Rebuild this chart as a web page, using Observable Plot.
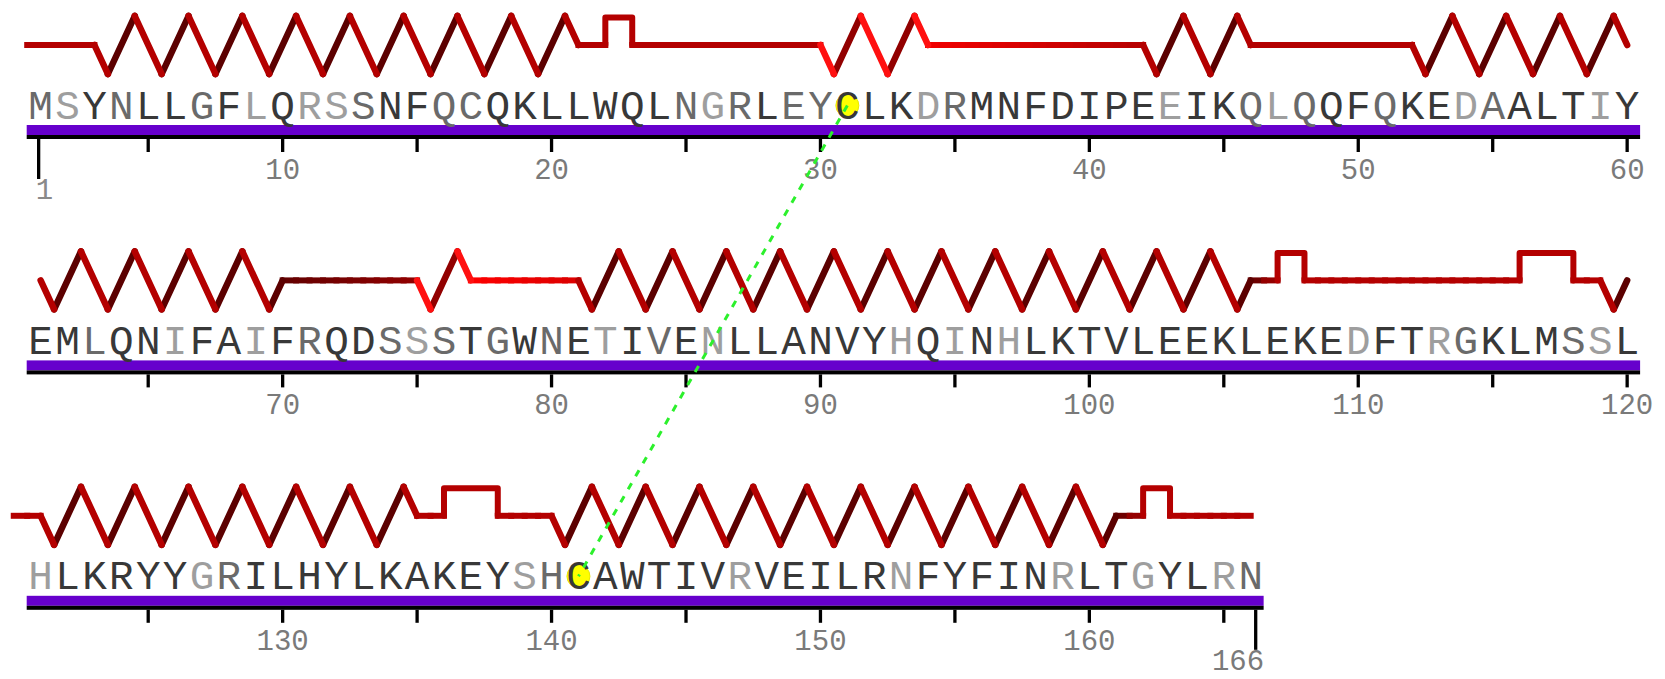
<!DOCTYPE html>
<html><head><meta charset="utf-8">
<script src="https://cdn.jsdelivr.net/npm/d3@7"></script>
<script src="https://cdn.jsdelivr.net/npm/@observablehq/plot@0.6"></script>
<style>body{margin:0;background:#fff}#chart svg{display:block}</style>
</head><body><div id="chart"></div>
<script>
// ---------- data ----------
const sequence = "MSYNLLGFLQRSSNFQCQKLLWQLNGRLEYCLKDRMNFDIPEEIKQLQQFQKEDAALTIY" +
                 "EMLQNIFAIFRQDSSSTGWNETIVENLLANVYHQINHLKTVLEEKLEKEDFTRGKLMSSL" +
                 "HLKRYYGRILHYLKAKEYSHCAWTIVRVEILRNFYFINRLTGYLRN";
// letter shade per residue: d = dark, m = mid, l = light
const shades = "mldmddmdld" + "llmddmmddd" + "ddddmlmdmm" + "dddlmddddd" + "ddlddmlmdd" + "mddlmdddld" +
               "ddmddlddld" + "mddmlmdmdm" + "dldmdldddd" + "ddldldlddd" + "dddddddddl" + "ddlmdddmld" +
               "ldddddlmdd" + "ddddddddlm" + "ddddddlddd" + "ddldddddld" + "dlddlm";
const rowLength = 60;
const helices   = [[3,21],[30,34],[42,46],[52,70],[75,77],[81,106],[119,135],[140,161]];
const helixTone = ["normal","bright","normal","normal","bright","normal","normal","normal"];
const turns     = [[22,23],[107,108],[116,118],[136,138],[162,163]];
const coils     = [[0.5,3],[21,22],[23,30],[34,42],[46,52],[70,75],[77,81],[106,107],
                   [108,116],[118,119],[120,121],[135,136],[138,140],[161,162],[163,166]];
const coilFrom  = ["#b40000","#b40000","#b40000","#f20000","#b40000","#620000","#ff0000","#5a0000",
                   "#b40000","#b40000","#b40000","#b40000","#b40000","#5a0000","#b40000"];
const coilTo    = ["#b40000","#b40000","#b40000","#b60000","#b40000","#900000","#dc0000","#a80000",
                   "#b40000","#b40000","#b40000","#b40000","#b40000","#a80000","#b40000"];
const disulfides = [[31,141]];
const tickStep = 5, labelStep = 10;

// ---------- layout ----------
const W = 1665, H = 679;
const X0 = 26.7, CELL = 26.89;
const ROW_TOP = 125, ROW_STEP = 235.4;
const LV = {top:-109.5, mid:-80.5, bottom:-51.5, turn:-108, letter:-20, barTop:0, barBot:10,
            axisBot:14, tickEnd:27, longTickEnd:54, label:44, endLabel:64};
const yAt = (r, lv) => ROW_TOP + r * ROW_STEP + LV[lv];
const tones = {normal: {up:"#5c0000", down:"#b40000"}, bright: {up:"#920000", down:"#ff1010"}};
const shadeColour = {d:"#383838", m:"#6a6a6a", l:"#9e9e9e"};

const N = sequence.length;
const nRows = Math.ceil(N / rowLength);
const rowCount = r => Math.min(rowLength, N - r * rowLength);

// letters
const letters = Array.from(sequence, (ch, i) => {
  const g = i + 1, r = Math.floor(i / rowLength);
  return {ch, x: g - r * rowLength, y: yAt(r, "letter"), c: shadeColour[shades[i]]};
});

// bars
const bars = d3.range(nRows).map(r => ({r, x1: 0.5, x2: rowCount(r) + 0.5}));

// ticks
const ticks = [], labels = [], endTicks = [], endLabels = [];
for (let r = 0; r < nRows; r++) {
  for (let k = 1; k <= rowCount(r); k++) {
    const g = r * rowLength + k;
    if (g % tickStep === 0) ticks.push({x: k, y1: yAt(r, "axisBot"), y2: yAt(r, "tickEnd")});
    if (g % labelStep === 0) labels.push({x: k, y: yAt(r, "label"), t: String(g)});
    if (g === 1 || g === N) {
      endTicks.push({x: k, y1: yAt(r, "axisBot"), y2: yAt(r, "longTickEnd"), first: g === 1});
      endLabels.push({x: g === 1 ? k : k + 0.5, y: yAt(r, "endLabel"), t: String(g), first: g === 1});
    }
  }
}

// coils (split into short pieces to allow colour gradients)
const coilSegs = [];
coils.forEach(([a, b], i) => {
  const r = Math.ceil(b / rowLength) - 1;
  const la = a - r * rowLength, lb = b - r * rowLength;
  const n = Math.max(1, Math.ceil((lb - la) / 0.5));
  const interp = d3.interpolateRgb(coilFrom[i], coilTo[i]);
  for (let j = 0; j < n; j++) {
    coilSegs.push({x1: la + (lb - la) * j / n, x2: la + (lb - la) * (j + 1) / n,
                   y: yAt(r, "mid"), c: interp((j + 0.5) / n)});
  }
});

// turns (raised bumps)
const turnPts = [];
turns.forEach(([a, b], i) => {
  const r = Math.ceil(b / rowLength) - 1;
  const la = a - r * rowLength, lb = b - r * rowLength;
  turnPts.push({id: i, x: la, y: yAt(r, "mid")}, {id: i, x: la, y: yAt(r, "turn")},
               {id: i, x: lb, y: yAt(r, "turn")}, {id: i, x: lb, y: yAt(r, "mid")});
});

// helices (zigzag springs), split over rows
const helixUp = [], helixDown = [];
helices.forEach(([s, e], i) => {
  const tone = tones[helixTone[i]];
  for (let r = 0; r < nRows; r++) {
    const lo = Math.max(s, r * rowLength + 1), hi = Math.min(e, r * rowLength + rowLength);
    if (lo >= hi) continue;
    const a = lo - r * rowLength, b = hi - r * rowLength;
    const pts = [[a, yAt(r, "mid")]];
    let k = 0;
    for (let t = a + 0.5; t < b; t += 1, k++) pts.push([t, yAt(r, k % 2 === 0 ? "bottom" : "top")]);
    pts.push([b, yAt(r, "mid")]);
    for (let j = 0; j + 1 < pts.length; j++) {
      const seg = {x1: pts[j][0], y1: pts[j][1], x2: pts[j + 1][0], y2: pts[j + 1][1]};
      if (seg.y2 < seg.y1) helixUp.push({...seg, c: tone.up});
      else helixDown.push({...seg, c: tone.down});
    }
  }
});

// disulfide bridges
const local = g => { const r = Math.ceil(g / rowLength) - 1; return {r, x: g - r * rowLength}; };
const cysDots = [], bridges = [];
disulfides.forEach(([a, b]) => {
  const A = local(a), B = local(b);
  cysDots.push({x: A.x, y: yAt(A.r, "letter")}, {x: B.x, y: yAt(B.r, "letter")});
  bridges.push({x1: A.x, y1: yAt(A.r, "letter"), x2: B.x, y2: yAt(B.r, "letter")});
});

const chart = Plot.plot({
  width: W, height: H,
  marginTop: 0, marginRight: 0, marginBottom: 0, marginLeft: 0,
  x: {type: "linear", domain: [0.5 - X0 / CELL, 0.5 + (W - X0) / CELL], range: [0, W], axis: null},
  y: {type: "linear", domain: [0, H], range: [0, H], axis: null},
  color: {type: "identity"},
  style: {background: "#fff"},
  marks: [
    Plot.rect(bars, {x1: "x1", x2: "x2", y1: d => yAt(d.r, "barTop"), y2: d => yAt(d.r, "barBot"), fill: "#6600cc"}),
    Plot.rect(bars, {x1: "x1", x2: "x2", y1: d => yAt(d.r, "barBot"), y2: d => yAt(d.r, "axisBot"), fill: "#000"}),
    Plot.ruleX(ticks, {x: "x", y1: "y1", y2: "y2", stroke: "#000", strokeWidth: 3.3}),
    Plot.ruleX(endTicks.filter(d => d.first), {x: "x", y1: "y1", y2: "y2", stroke: "#000", strokeWidth: 3.3, dx: -2}),
    Plot.ruleX(endTicks.filter(d => !d.first), {x: "x", y1: "y1", y2: "y2", stroke: "#000", strokeWidth: 3.3, dx: 5}),
    Plot.text(labels, {x: "x", y: "y", text: "t", fontFamily: "Liberation Mono", fontSize: 29, fill: "#7a7a7a", textAnchor: "middle", lineAnchor: "middle"}),
    Plot.text(endLabels.filter(d => d.first), {x: "x", y: "y", text: "t", fontFamily: "Liberation Mono", fontSize: 29, fill: "#8a8a8a", textAnchor: "start", dx: -5, lineAnchor: "middle"}),
    Plot.text(endLabels.filter(d => !d.first), {x: "x", y: "y", text: "t", fontFamily: "Liberation Mono", fontSize: 29, fill: "#7a7a7a", textAnchor: "end", lineAnchor: "middle"}),
    Plot.link(coilSegs, {x1: "x1", x2: "x2", y1: "y", y2: "y", stroke: "c", strokeWidth: 6, strokeLinecap: "square"}),
    Plot.line(turnPts, {x: "x", y: "y", z: "id", stroke: "#b40000", strokeWidth: 6, strokeLinejoin: "round", strokeLinecap: "round"}),
    Plot.link(helixUp, {x1: "x1", y1: "y1", x2: "x2", y2: "y2", stroke: "c", strokeWidth: 6.5, strokeLinecap: "round"}),
    Plot.link(helixDown, {x1: "x1", y1: "y1", x2: "x2", y2: "y2", stroke: "c", strokeWidth: 6.5, strokeLinecap: "round"}),
    Plot.dot(cysDots, {x: "x", y: "y", r: 11.5, fill: "#ffff00", stroke: "#e8e800", strokeWidth: 1}),
    Plot.text(letters, {x: "x", y: "y", text: "ch", fill: "c", fontFamily: "Liberation Mono", fontSize: 41, textAnchor: "middle", lineAnchor: "middle"}),
    Plot.link(bridges, {x1: "x1", y1: "y1", x2: "x2", y2: "y2", stroke: "#2cf02c", strokeWidth: 3, strokeDasharray: "7,8"})
  ]
});
document.getElementById("chart").appendChild(chart);
</script>
</body></html>
